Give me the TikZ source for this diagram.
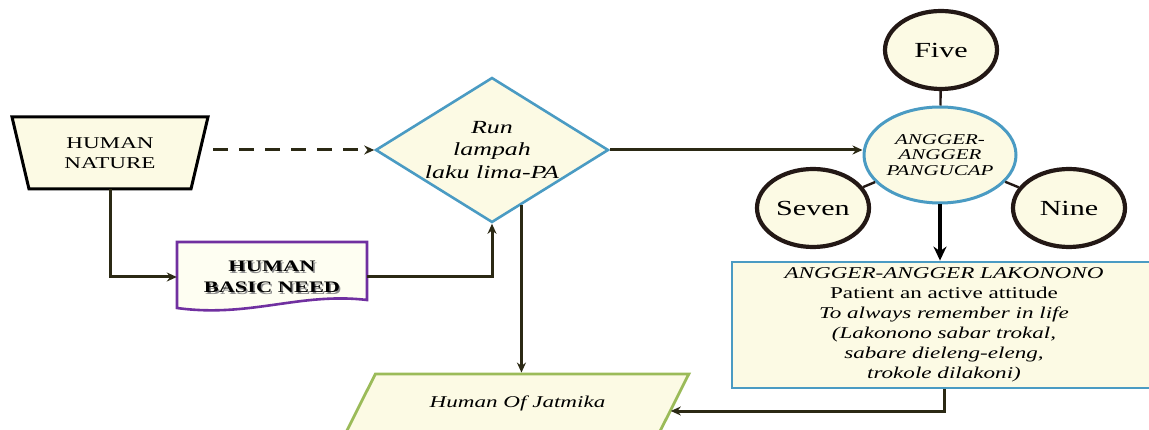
\documentclass[tikz,border=0pt]{standalone}
\usepackage{fontspec}
\setmainfont[FakeStretch=1.4]{Liberation Serif}
\usetikzlibrary{shapes.geometric,arrows.meta,calc}
\definecolor{cream}{RGB}{252,250,228}
\definecolor{paper}{RGB}{254,254,242}
\definecolor{wire}{RGB}{43,41,20}
\definecolor{skyline}{RGB}{74,155,195}
\definecolor{plum}{RGB}{112,48,160}
\definecolor{leaf}{RGB}{155,187,89}
\definecolor{ink}{RGB}{35,24,21}
\tikzset{
  link/.style={draw=wire, line width=3pt, -{Stealth[length=10pt,width=9pt]}},
  spoke/.style={draw=ink, line width=2.4pt},
  bubble/.style={ellipse, draw=ink, line width=4.2pt, fill=cream,
    minimum width=112pt, minimum height=78pt, inner sep=0pt,
    font=\fontsize{21.5}{24}\selectfont},
  hub/.style={ellipse, draw=skyline, line width=3pt, fill=cream,
    minimum width=152pt, minimum height=96pt, inner sep=0pt, align=center,
    font=\fontsize{15}{15.5}\selectfont\itshape},
  txt/.style={align=center, inner sep=0pt}
}
\begin{document}
\begin{tikzpicture}[x=1pt,y=-1pt]
\useasboundingbox (0,0) rectangle (1149,430);
\clip (0,0) rectangle (1149,430);

% human nature (inverted trapezium outline, text node on top)
\draw[draw=black, line width=3pt, fill=cream, line join=miter]
  (12,117) -- (208,117) -- (191,189) -- (29,189) -- cycle;
\node[txt, minimum width=196pt, minimum height=72pt,
  font=\fontsize{16.5}{20}\selectfont] (nature) at (110,153) {HUMAN\\NATURE};

% basic need (document shape with wavy bottom)
\draw[draw=plum, line width=2.6pt, fill=paper]
  (177,242) -- (367,242) -- (367,300)
  .. controls (300,292) and (250,318) .. (177,308) -- cycle;
\node[txt, text=black!45, font=\fontsize{16}{21}\selectfont\bfseries]
  (needshade) at (273.5,278.5) {HUMAN\\BASIC NEED};
\node[txt, minimum width=190pt, minimum height=58pt,
  font=\fontsize{16}{21}\selectfont\bfseries] (need) at (272,277) {HUMAN\\BASIC NEED};

% decision diamond
\node[diamond, shape aspect=1.6, minimum width=233pt, minimum height=145pt,
  inner sep=0pt, draw=skyline, line width=2.6pt, fill=cream, txt,
  font=\fontsize{18.5}{22.5}\selectfont\itshape] (diam) at (492,150)
  {Run\\lampah\\laku lima-PA};

% outcome parallelogram
\node[trapezium, trapezium left angle=40, trapezium right angle=140,
  trapezium stretches=true, minimum width=343pt, minimum height=58pt,
  inner sep=0pt, draw=leaf, line width=2.8pt, fill=cream, txt,
  font=\fontsize{16.5}{20}\selectfont\itshape] (hum) at (517.5,403)
  {Human Of Jatmika};

% pangucap cluster
\node[hub] (mid) at (940,155) {ANGGER-\\ANGGER\\PANGUCAP};
\node[bubble] (five) at (941,50) {Five};
\node[bubble] (seven) at (813,208) {Seven};
\node[bubble] (nine) at (1069,208) {Nine};
\draw[spoke] (five) -- (mid);
\draw[spoke] (seven) -- (mid);
\draw[spoke] (nine) -- (mid);

% lakonono box
\node[draw=skyline, line width=2.8pt, fill=cream, minimum width=424pt,
  minimum height=126pt, inner sep=0pt, txt,
  font=\fontsize{16.5}{20}\selectfont] (lak) at (944,325)
  {\itshape ANGGER-ANGGER LAKONONO\\
   Patient an active attitude\\
   \itshape To always remember in life\\
   \itshape (Lakonono sabar trokal,\\
   \itshape sabare dieleng-eleng,\\
   \itshape trokole dilakoni)};

% connectors
\draw[link, dashed, dash pattern=on 15pt off 11pt, shorten <=5pt]
  (diam.west -| nature.east) -- (diam.west);
\draw[link] (nature.south) |- (need.west);
\draw[link] (need.east) -| (diam.south);
\coordinate (dstart) at ($(diam.south)!0.25!(diam.east)$);
\draw[link] (dstart) -- (dstart |- hum.north);
\draw[link] (diam.east) -- (diam.east -| mid.west);
\draw[draw=black, line width=4.4pt, -{Stealth[length=14pt,width=13pt]}]
  (mid.south) -- (mid.south |- lak.north);
\coordinate (humR) at ($(hum.east)+(-5,8)$);
\draw[link] (lak.south) |- (humR);
\end{tikzpicture}
\end{document}
